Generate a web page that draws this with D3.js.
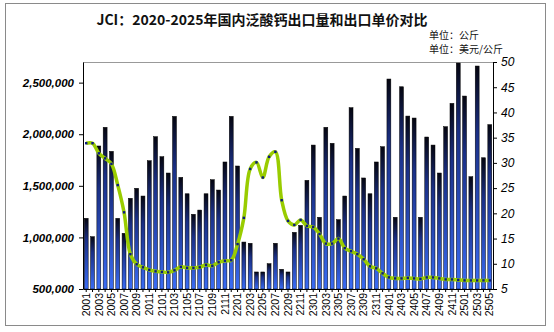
<!DOCTYPE html>
<html><head><meta charset="utf-8">
<script src="https://cdn.jsdelivr.net/npm/d3@7/dist/d3.min.js"></script>
<style>body{margin:0;background:#fff}svg{display:block}</style>
</head><body><svg id="c" width="554" height="332"></svg>
<script>
const months = [];
for (let y = 20; y <= 25; y++) for (let m = 1; m <= 12; m++) { if (y === 25 && m > 5) break; months.push(String(y) + String(m).padStart(2, "0")); }
const volume = [1185000,1007000,1886000,2067000,1834000,1185000,1040000,1379000,1476000,1401000,1743000,1976000,
  1782000,1624000,2173000,1582000,1423000,1224000,1265000,1423000,1559000,1459000,1731000,2173000,
  1692000,955000,943000,665000,665000,745000,943000,691000,665000,1049000,1117000,1553000,
  1895000,1195000,2067000,1912000,1172000,1401000,2257000,1863000,1576000,1423000,1731000,1879000,
  2535000,1195000,2460000,2176000,2157000,1195000,1973000,1895000,1624000,2073000,2299000,2690000,
  2370000,1588000,2661000,1772000,2093000];
const price = [33.9,33.9,31.9,30.9,29.8,25.6,20.2,11.9,9.9,9.3,8.8,8.5,
  8.4,8.3,8.7,9.4,9.2,9.2,9.3,9.8,9.6,10.3,10.6,10.7,
  13.9,19.1,28.8,30.1,27.1,31.2,32.2,22.6,18.5,17.7,18.7,17.5,
  17.3,15.9,14.0,14.0,15.0,13.1,12.5,11.9,10.9,9.5,9.1,8.1,
  7.3,7.1,7.1,7.2,7.1,7.0,7.3,7.3,7.1,6.9,6.9,6.8,
  6.7,6.7,6.7,6.7,6.7];
const leftTicks = [500000,1000000,1500000,2000000,2500000];
const rightTicks = [5,10,15,20,25,30,35,40,45,50];
const title = "JCI：2020-2025年国内泛酸钙出口量和出口单价对比";
const unitLeft = "单位：公斤";
const unitRight = "单位：美元/公斤";

const svg = d3.select("#c");
const L = 83, R = 493, T = 62, B = 289;
const cjk = "'Noto Sans CJK SC','Noto Sans',sans-serif";
const lat = "'Liberation Sans',Arial,sans-serif";

svg.append("rect").attr("x",5.5).attr("y",3.5).attr("width",540).attr("height",322)
  .attr("fill","#fff").attr("stroke","#8a8a8a").attr("stroke-width",1);

const defs = svg.append("defs");
const g1 = defs.append("linearGradient").attr("id","bg").attr("x1",0).attr("x2",0).attr("y1",0).attr("y2",1);
g1.append("stop").attr("offset","0%").attr("stop-color","#05050f");
g1.append("stop").attr("offset","30%").attr("stop-color","#1a2f85");
g1.append("stop").attr("offset","100%").attr("stop-color","#3a6cf5");

const x = d3.scaleBand().domain(months).range([L, R]).paddingInner(0.38).paddingOuter(0.2);
const xc = d => x(d) + x.bandwidth()/2;
const yL = d3.scaleLinear().domain([500000, 2700000]).range([B, T]);
const yR = d3.scaleLinear().domain([5, 50]).range([B, T]);

// plot top border
svg.append("line").attr("x1",L).attr("x2",R).attr("y1",T+0.5).attr("y2",T+0.5).attr("stroke","#999");

// bars
svg.append("g").selectAll("rect").data(months).join("rect")
  .attr("x", d => x(d)).attr("width", x.bandwidth())
  .attr("y", (d,i) => yL(volume[i])).attr("height", (d,i) => B - yL(volume[i]))
  .attr("fill","url(#bg)").attr("stroke","#000").attr("stroke-width",0.5);

// line
const line = d3.line().x((d,i) => xc(months[i])).y(d => yR(d)).curve(d3.curveCatmullRom.alpha(0.5));
svg.append("path").attr("d", line(price)).attr("fill","none").attr("stroke","#99cc00").attr("stroke-width",3.5);
svg.append("g").selectAll("rect").data(price).join("rect")
  .attr("x",(d,i)=>xc(months[i])-1.2).attr("y",d=>yR(d)-1.2).attr("width",2.4).attr("height",2.4)
  .attr("fill","#0a1a80");

// axes
const axL = svg.append("g").attr("transform",`translate(${L},0)`)
  .call(d3.axisLeft(yL).tickValues(leftTicks).tickFormat(d3.format(",")).tickSize(4).tickSizeOuter(0));
axL.selectAll("text").attr("font-family",lat).attr("font-weight","bold").attr("font-style","italic").attr("font-size",11.5).attr("fill","#000").attr("dx",-2);
axL.select(".domain").attr("stroke","#000");

const axR = svg.append("g").attr("transform",`translate(${R},0)`)
  .call(d3.axisRight(yR).tickValues(rightTicks).tickSize(4).tickSizeOuter(0));
axR.selectAll("text").attr("font-family",lat).attr("font-style","italic").attr("font-size",12).attr("fill","#000").attr("dx",1);
axR.select(".domain").attr("stroke","#000");

const axB = svg.append("g").attr("transform",`translate(0,${B})`)
  .call(d3.axisBottom(x).tickValues(months).tickSize(3).tickSizeOuter(0).tickFormat((d,i)=> i%2===0 ? d : ""));
axB.select(".domain").attr("stroke","#000");
axB.selectAll("text").attr("font-family",lat).attr("font-size",10.5).attr("fill","#000")
  .attr("transform","rotate(-90)").attr("text-anchor","end").attr("x",-4).attr("y",0).attr("dy","0.35em");

// title and units
svg.append("text").attr("x",262).attr("y",25).attr("text-anchor","middle").attr("font-family",cjk)
  .attr("font-weight","bold").attr("font-size",14).attr("fill","#111").text(title);
svg.append("text").attr("x",429).attr("y",39).attr("font-family",cjk).attr("font-size",10).attr("fill","#111").text(unitLeft);
svg.append("text").attr("x",429).attr("y",53).attr("font-family",cjk).attr("font-size",10).attr("fill","#111").text(unitRight);
</script></body></html>
